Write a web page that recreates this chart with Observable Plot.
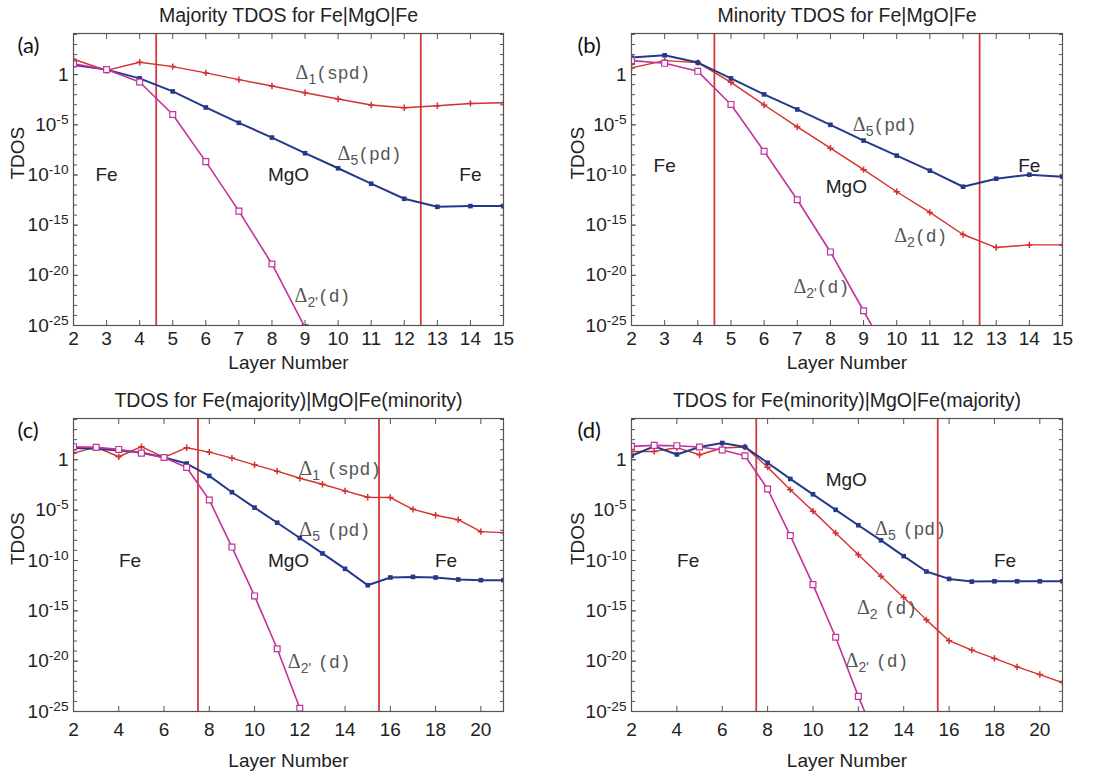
<!DOCTYPE html>
<html><head><meta charset="utf-8">
<script src="https://cdn.jsdelivr.net/npm/d3@7"></script>
<script src="https://cdn.jsdelivr.net/npm/@observablehq/plot@0.6"></script>
<style>
body{margin:0;background:#fff;}
#root{position:relative;width:1120px;height:775px;overflow:hidden;background:#fff;}
.panel{position:absolute;}
</style>
</head><body>
<div id="root"></div>
<script>
// ---------- data (log10 of TDOS) ----------
const layersAB = [2,3,4,5,6,7,8,9,10,11,12,13,14,15];
const layersCD = [2,3,4,5,6,7,8,9,10,11,12,13,14,15,16,17,18,19,20,21];

// (a) Majority
const aD1  = [1.53,0.43,1.23,0.8,0.17,-0.5,-1.13,-1.8,-2.43,-3.03,-3.3,-3.1,-2.87,-2.8];
const aD5  = [0.97,0.5,-0.37,-1.67,-3.27,-4.8,-6.27,-7.83,-9.33,-10.87,-12.37,-13.17,-13.1,-13.1];
const aD2p = [1.07,0.5,-0.73,-3.97,-8.67,-13.6,-18.87,-25.2,-31.5];
// (b) Minority
const bD2  = [0.67,1.4,1.2,-0.77,-3.03,-5.2,-7.33,-9.47,-11.67,-13.73,-15.93,-17.23,-16.97,-16.97];
const bD5  = [1.7,1.93,1.2,-0.37,-1.97,-3.47,-5.0,-6.57,-8.07,-9.57,-11.17,-10.37,-9.97,-10.17];
const bD2p = [1.4,1.13,0.33,-2.97,-7.63,-12.47,-17.67,-23.53,-29.5];
// (c) Fe(majority)|MgO|Fe(minority)
const cD1  = [0.66,1.26,0.3,1.3,0.23,1.2,0.76,0.17,-0.5,-1.13,-1.83,-2.43,-3.09,-3.72,-3.75,-4.92,-5.51,-5.95,-7.14,-7.24];
const cD5  = [1.16,1.1,0.93,0.73,0.23,-0.37,-1.6,-3.22,-4.75,-6.25,-7.77,-9.3,-10.83,-12.46,-11.69,-11.63,-11.69,-11.89,-11.96,-11.96];
const cD2p = [1.3,1.23,1.03,0.66,0.23,-0.76,-3.99,-8.67,-13.52,-18.77,-24.68,-31];
// (d) Fe(minority)|MgO|Fe(majority)
const dD2  = [0.83,0.83,1.2,0.5,1.17,1.27,-0.73,-2.97,-5.1,-7.27,-9.43,-11.57,-13.67,-15.9,-17.97,-18.9,-19.73,-20.57,-21.33,-22.13];
const dD5  = [0.4,1.33,0.53,1.27,1.67,1.27,-0.3,-1.9,-3.43,-4.97,-6.5,-8.0,-9.57,-11.1,-11.83,-12.1,-12.07,-12.07,-12.07,-12.07];
const dD2p = [1.33,1.43,1.4,1.27,0.97,0.4,-2.9,-7.53,-12.4,-17.63,-23.5,-28.9];

const titles = ["Majority TDOS for Fe|MgO|Fe","Minority TDOS for Fe|MgO|Fe",
  "TDOS for Fe(majority)|MgO|Fe(minority)","TDOS for Fe(minority)|MgO|Fe(majority)"];
const tags = ["(a)","(b)","(c)","(d)"];
const xTicksAB = [2,3,4,5,6,7,8,9,10,11,12,13,14,15];
const xTicksCD = [2,4,6,8,10,12,14,16,18,20];
const yMajorExp = [-25,-20,-15,-10,-5,0];
const yMinorExp = [-25,-24,-23,-22,-21,-20,-19,-18,-17,-16,-15,-14,-13,-12,-11,-10,-9,-8,-7,-6,-5,-4,-3,-2,-1,0,1,2,3,4];
const interfacesAB = [4.5,12.5];
const interfacesCD = [7.5,15.5];

const regionsA = [{x:3,e:-10,t:"Fe"},{x:8.5,e:-10,t:"MgO"},{x:14,e:-10,t:"Fe"}];
const regionsB = [{x:3,e:-9.07,t:"Fe"},{x:8.48,e:-11.17,t:"MgO"},{x:14,e:-9.07,t:"Fe"}];
const regionsC = [{x:4.5,e:-10,t:"Fe"},{x:11.5,e:-10,t:"MgO"},{x:18.46,e:-10,t:"Fe"}];
const regionsD = [{x:4.5,e:-10,t:"Fe"},{x:11.47,e:-1.97,t:"MgO"},{x:18.47,e:-10,t:"Fe"}];

const deltasA = [{x:8.73,e:0.1,sub:"1",txt:"(spd)",gap:0},{x:10.0,e:-8.0,sub:"5",txt:"(pd)",gap:0},{x:8.7,e:-22.1,sub:"2'",txt:"(d)",gap:0}];
const deltasB = [{x:8.69,e:-5.1,sub:"5",txt:"(pd)",gap:0},{x:9.94,e:-16.1,sub:"2",txt:"(d)",gap:0},{x:6.9,e:-21.2,sub:"2'",txt:"(d)",gap:0}];
const deltasC = [{x:12.0,e:-1.0,sub:"1",txt:"(spd)",gap:7},{x:12.0,e:-7.04,sub:"5",txt:"(pd)",gap:7},{x:11.49,e:-20.1,sub:"2'",txt:"(d)",gap:7}];
const deltasD = [{x:12.76,e:-6.97,sub:"5",txt:"(pd)",gap:7},{x:11.96,e:-14.8,sub:"2",txt:"(d)",gap:7},{x:11.46,e:-20,sub:"2'",txt:"(d)",gap:7}];

// ---------- styling ----------
const RED = "#d3302e", BLUE = "#25398a", MAG = "#c2329c", VLINE = "#d43a3a", FRAME = "#555";
const FONT = '"Liberation Sans", Arial, Helvetica, sans-serif';

function series(layers, logs) {
  return logs.map((e, i) => ({layer: layers[i], tdos: Math.pow(10, e)}));
}

function makePanel(cfg) {
  const {left, top, width, height, mL, mR, mT, mB, xDomain, xTicks, tickPad, labelDy,
         red, blue, mag, vlines, regions, deltas, title, tag} = cfg;
  const minor = yMinorExp.map(e => Math.pow(10, e));
  const major = yMajorExp.map(e => Math.pow(10, e));
  const plot = Plot.plot({
    width, height, marginLeft: mL, marginRight: mR, marginTop: mT, marginBottom: mB,
    style: {fontFamily: FONT, fontSize: "19px", color: "#222", background: "transparent", overflow: "visible"},
    x: {domain: xDomain},
    y: {type: "log", domain: [1e-25, Math.pow(10, 4.1)]},
    marks: [
      Plot.axisX({anchor: "bottom", ticks: xTicks, tickSize: -5, tickPadding: tickPad, label: null,
        tickFormat: d => String(d), fontSize: 19, stroke: FRAME, color: "#222"}),
      Plot.axisX({anchor: "top", ticks: xTicks, tickSize: -5, tickFormat: () => "", label: null, stroke: FRAME}),
      Plot.axisY({anchor: "left", ticks: major, tickSize: -5, tickPadding: 10, label: null,
        tickFormat: d => { const e = Math.round(Math.log10(d)); return e === 0 ? "1" : "10^" + e; },
        fontSize: 19, stroke: FRAME}),
      Plot.axisY({anchor: "left", ticks: minor, tickSize: -4, tickFormat: () => "", label: null, stroke: FRAME}),
      Plot.axisY({anchor: "right", ticks: minor, tickSize: -4, tickFormat: () => "", label: null, stroke: FRAME}),
      Plot.ruleX(vlines, {x: d => d, stroke: VLINE, strokeWidth: 1.8}),
      Plot.line(red.data, {x: "layer", y: "tdos", stroke: RED, strokeWidth: 1.4, clip: true}),
      Plot.dot(red.data, {x: "layer", y: "tdos", symbol: "plus", stroke: RED, fill: "none", r: 2.2, strokeWidth: 1.5, clip: true}),
      Plot.line(blue, {x: "layer", y: "tdos", stroke: BLUE, strokeWidth: 2, clip: true}),
      Plot.dot(blue, {x: "layer", y: "tdos", symbol: "square", fill: BLUE, r: 2.6, clip: true}),
      Plot.line(mag, {x: "layer", y: "tdos", stroke: MAG, strokeWidth: 1.6, clip: true}),
      Plot.dot(mag, {x: "layer", y: "tdos", symbol: "square", fill: "white", stroke: MAG, r: 3.3, strokeWidth: 1.2, clip: true}),
      Plot.text(regions, {x: "x", y: d => Math.pow(10, d.e), text: "t", fontSize: 19, fill: "#222"}),
      Plot.frame({stroke: FRAME, strokeWidth: 1.2}),
      Plot.text([title], {frameAnchor: "top", lineAnchor: "middle", dy: -18, fontSize: 19.5, fill: "#222"}),
      Plot.text([tag], {frameAnchor: "top-left", lineAnchor: "middle", dx: 17 - mL, dy: 12, textAnchor: "start", fontSize: 22, fontFamily: "Lato, 'Open Sans', sans-serif", fill: "#111"}),
      Plot.text(["TDOS"], {frameAnchor: "left", lineAnchor: "middle", dx: 17 - mL, rotate: -90, fontSize: 19, fill: "#222"}),
      Plot.text(["Layer Number"], {frameAnchor: "bottom", lineAnchor: "middle", dy: labelDy, fontSize: 19, fill: "#222"})
    ]
  });
  // superscript exponents on y tick labels
  d3.select(plot).selectAll('g[aria-label="y-axis tick label"] text').each(function() {
    const t = this.textContent;
    if (t.startsWith("10^")) {
      this.textContent = "10";
      d3.select(this).append("tspan").attr("dy", "-0.5em").attr("font-size", "0.72em").text(t.slice(3));
    }
  });
  // Delta labels with subscripts, positioned through the plot's scales
  const sx = plot.scale("x"), sy = plot.scale("y");
  const g = d3.select(plot).append("g").attr("fill", "#555").attr("text-anchor", "start");
  deltas.forEach(d => {
    const t = g.append("text").attr("text-anchor", "start")
      .attr("x", sx.apply(d.x)).attr("y", sy.apply(Math.pow(10, d.e)) + 6);
    t.append("tspan").attr("font-family", '"Liberation Serif", "DejaVu Serif", serif').attr("font-size", 20).text("Δ");
    t.append("tspan").attr("font-family", FONT).attr("font-size", 14).attr("dy", 5).text(d.sub);
    t.append("tspan").attr("font-family", '"Liberation Mono", "DejaVu Sans Mono", monospace').attr("font-size", 18)
      .attr("dy", -5).attr("dx", d.gap).text(d.txt);
  });
  const wrap = document.createElement("div");
  wrap.className = "panel";
  wrap.style.left = left + "px";
  wrap.style.top = top + "px";
  wrap.appendChild(plot);
  document.getElementById("root").appendChild(wrap);
}

makePanel({left: 0, top: 0, width: 560, height: 385, mL: 73, mR: 57, mT: 33, mB: 60,
  xDomain: [2, 15], xTicks: xTicksAB, tickPad: 11, labelDy: 37,
  red: {data: series(layersAB, aD1)}, blue: series(layersAB, aD5), mag: series(layersAB, aD2p),
  vlines: interfacesAB, regions: regionsA, deltas: deltasA, title: titles[0], tag: tags[0]});
makePanel({left: 560, top: 0, width: 560, height: 385, mL: 71, mR: 58, mT: 33, mB: 60,
  xDomain: [2, 15], xTicks: xTicksAB, tickPad: 11, labelDy: 37,
  red: {data: series(layersAB, bD2)}, blue: series(layersAB, bD5), mag: series(layersAB, bD2p),
  vlines: interfacesAB, regions: regionsB, deltas: deltasB, title: titles[1], tag: tags[1]});
makePanel({left: 0, top: 385, width: 560, height: 390, mL: 73, mR: 57, mT: 33, mB: 64,
  xDomain: [2, 21], xTicks: xTicksCD, tickPad: 16, labelDy: 49,
  red: {data: series(layersCD, cD1)}, blue: series(layersCD, cD5), mag: series(layersCD, cD2p),
  vlines: interfacesCD, regions: regionsC, deltas: deltasC, title: titles[2], tag: tags[2]});
makePanel({left: 560, top: 385, width: 560, height: 390, mL: 71, mR: 58, mT: 33, mB: 64,
  xDomain: [2, 21], xTicks: xTicksCD, tickPad: 16, labelDy: 49,
  red: {data: series(layersCD, dD2)}, blue: series(layersCD, dD5), mag: series(layersCD, dD2p),
  vlines: interfacesCD, regions: regionsD, deltas: deltasD, title: titles[3], tag: tags[3]});
</script>
</body></html>
